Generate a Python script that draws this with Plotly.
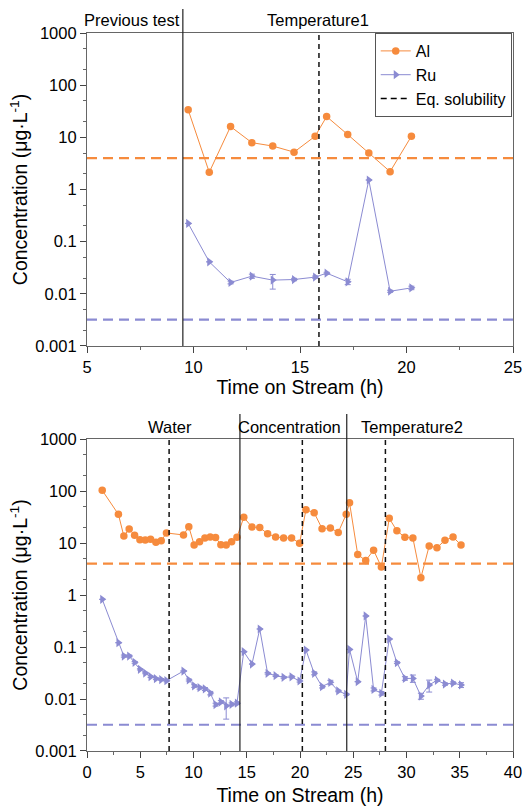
import plotly.graph_objects as go

# ---------------- data: top panel (Temperature1) ----------------
t1_time = [9.75, 10.74, 11.74, 12.74, 13.72, 14.72, 15.71, 16.25, 17.24, 18.23, 19.23, 20.23]
t1_al = [33.6, 2.14, 16.1, 7.9, 6.8, 5.2, 10.5, 25.0, 11.3, 5.0, 2.2, 10.5]
t1_ru = [0.224, 0.041, 0.0165, 0.0218, 0.0183, 0.0188, 0.0209, 0.0249, 0.017, 1.52, 0.0112, 0.013]
t1_ru_err_hi = [0.0, 0.0, 0.001, 0.002, 0.0052, 0.001, 0.001, 0.001, 0.002, 0.0, 0.0005, 0.001]
t1_ru_err_lo = [0.0, 0.0, 0.001, 0.002, 0.0060, 0.001, 0.001, 0.001, 0.002, 0.0, 0.0005, 0.001]

# ---------------- data: bottom panel ----------------
t2_time = [1.43, 2.95, 3.46, 3.96, 4.47, 4.97, 5.47, 5.97, 6.47, 6.97, 7.46,
           9.06, 9.56, 10.06, 10.57, 11.07, 11.57, 12.07, 12.57, 13.07, 13.58, 14.08,
           14.72, 15.49, 16.22, 16.96, 17.71, 18.46, 19.21, 19.96, 20.56, 21.33, 22.07, 22.85, 23.59, 24.34,
           24.65, 25.42, 26.17, 26.91, 27.64, 28.38, 29.1, 29.85, 30.6, 31.35, 32.13, 32.86, 33.61, 34.37, 35.12]
t2_al = [103, 35.6, 13.6, 18.6, 14.1, 11.6, 11.4, 11.8, 10.3, 11.0, 15.6,
         14.3, 20.6, 9.2, 10.6, 12.5, 13.1, 12.7, 9.3, 9.2, 10.6, 12.9,
         31.2, 20.3, 19.8, 15.1, 13.1, 12.5, 12.5, 9.9, 43.7, 38.3, 18.9, 19.5, 16.0, 35.6,
         59.7, 6.0, 4.6, 7.3, 3.45, 29.8, 17.2, 12.9, 12.5, 2.15, 8.8, 8.1, 11.3, 13.0, 9.2]
t2_ru = [0.826, 0.121, 0.067, 0.067, 0.0507, 0.0372, 0.0316, 0.0269, 0.0246, 0.0237, 0.0225,
         0.0345, 0.0232, 0.0178, 0.0165, 0.0156, 0.0130, 0.0078, 0.0088, 0.0074, 0.0079, 0.0083,
         0.0813, 0.047, 0.222, 0.0312, 0.0281, 0.0261, 0.0267, 0.0222, 0.0876, 0.0312, 0.0173, 0.0209, 0.0143, 0.0123,
         0.090, 0.0215, 0.395, 0.0153, 0.0129, 0.1425, 0.050, 0.0249, 0.0249, 0.0114, 0.0186, 0.0229, 0.0194, 0.0203, 0.0186]
t2_ru_err_hi = [0.0, 0.0, 0.003, 0.003, 0.002, 0.001, 0.001, 0.001, 0.001, 0.001, 0.001,
                0.0, 0.001, 0.001, 0.001, 0.001, 0.001, 0.0005, 0.0005, 0.0031, 0.0005, 0.0005,
                0.0, 0.0, 0.0, 0.001, 0.001, 0.001, 0.001, 0.001, 0.0, 0.002, 0.001, 0.002, 0.0005, 0.0005,
                0.0, 0.0, 0.0, 0.001, 0.001, 0.0, 0.002, 0.002, 0.004, 0.0015, 0.0045, 0.001, 0.001, 0.001, 0.002]
t2_ru_err_lo = [0.0, 0.0, 0.003, 0.003, 0.002, 0.001, 0.001, 0.001, 0.001, 0.001, 0.001,
                0.0, 0.001, 0.001, 0.001, 0.001, 0.001, 0.0005, 0.0005, 0.0033, 0.0005, 0.0005,
                0.0, 0.0, 0.0, 0.001, 0.001, 0.001, 0.001, 0.001, 0.0, 0.002, 0.001, 0.002, 0.0005, 0.0005,
                0.0, 0.0, 0.0, 0.001, 0.001, 0.0, 0.002, 0.002, 0.004, 0.0015, 0.0050, 0.001, 0.001, 0.001, 0.002]

# equilibrium solubility levels
eq_al = 4.0
eq_ru = 0.0032

# phase boundaries
top_solid = [9.5]
top_dashed = [15.89]
bot_solid = [14.36, 24.39]
bot_dashed = [7.71, 20.22, 28.02]

top_phase_names = ["Previous test", "Temperature1"]
top_phase_pos = [7.1, 15.85]
bot_phase_names = ["Water", "Concentration", "Temperature2"]
bot_phase_pos = [7.8, 19.0, 30.5]

y_tickvals = [0.001, 0.01, 0.1, 1, 10, 100, 1000]
y_ticktext = ["0.001", "0.01", "0.1", "1", "10", "100", "1000"]

ORANGE = "#F68B3D"
PURPLE = "#8B8BD2"
FONT = "Liberation Sans, Arial, sans-serif"

fig = go.Figure()

def add_panel(xa, ya, t, al, ru, ehi, elo, legend):
    fig.add_trace(go.Scatter(x=t, y=al, mode="lines+markers", name="Al", xaxis=xa, yaxis=ya,
                             line=dict(color=ORANGE, width=1), marker=dict(color=ORANGE, size=7.5, symbol="circle"),
                             showlegend=legend))
    fig.add_trace(go.Scatter(x=t, y=ru, mode="lines+markers", name="Ru", xaxis=xa, yaxis=ya,
                             line=dict(color=PURPLE, width=1),
                             marker=dict(color=PURPLE, size=8, symbol="triangle-right"),
                             error_y=dict(type="data", array=ehi, arrayminus=elo, symmetric=False,
                                          color=PURPLE, thickness=1, width=3),
                             showlegend=legend))

add_panel("x", "y", t1_time, t1_al, t1_ru, t1_ru_err_hi, t1_ru_err_lo, True)
add_panel("x2", "y2", t2_time, t2_al, t2_ru, t2_ru_err_hi, t2_ru_err_lo, False)

fig.add_trace(go.Scatter(x=[None], y=[None], mode="lines", name="Eq. solubility", xaxis="x", yaxis="y",
                         line=dict(color="black", width=1.5, dash="6px,4px")))

shapes = []
for xr, yr in [("x", "y"), ("x2", "y2")]:
    for lvl, col in [(eq_al, ORANGE), (eq_ru, PURPLE)]:
        shapes.append(dict(type="line", xref=xr + " domain", yref=yr, x0=0, x1=1, y0=lvl, y1=lvl,
                           line=dict(color=col, width=2.2, dash="10px,6px"), layer="below"))
for xv in top_solid:
    shapes.append(dict(type="line", xref="x", yref="y domain", x0=xv, x1=xv, y0=0, y1=1.077,
                       line=dict(color="#222", width=1.2)))
for xv in top_dashed:
    shapes.append(dict(type="line", xref="x", yref="y domain", x0=xv, x1=xv, y0=0, y1=1,
                       line=dict(color="#111", width=1.5, dash="5px,4px")))
for xv in bot_solid:
    shapes.append(dict(type="line", xref="x2", yref="y2 domain", x0=xv, x1=xv, y0=0, y1=1.08,
                       line=dict(color="#222", width=1.2)))
for xv in bot_dashed:
    shapes.append(dict(type="line", xref="x2", yref="y2 domain", x0=xv, x1=xv, y0=0, y1=1,
                       line=dict(color="#111", width=1.5, dash="5px,4px")))

annotations = []
for name, pos in zip(top_phase_names, top_phase_pos):
    annotations.append(dict(text=name, x=pos, xref="x", y=1.04, yref="y domain", showarrow=False,
                            font=dict(size=16.5, color="black", family=FONT), yanchor="middle"))
for name, pos in zip(bot_phase_names, bot_phase_pos):
    annotations.append(dict(text=name, x=pos, xref="x2", y=1.04, yref="y2 domain", showarrow=False,
                            font=dict(size=16.5, color="black", family=FONT), yanchor="middle"))

axis_common = dict(showline=True, linecolor="#666", linewidth=1.2, mirror=True, ticks="outside",
                   ticklen=6, tickcolor="#444", showgrid=False, zeroline=False, automargin=False,
                   tickfont=dict(size=16.5, color="black", family=FONT))

yaxis_common = dict(axis_common, type="log", range=[-3, 3], tickvals=y_tickvals, ticktext=y_ticktext,
                    title=dict(text="Concentration (μg·L<sup>-1</sup>)", font=dict(size=19.5, family=FONT, color="black"),
                               standoff=2),
                    minor=dict(ticks="outside", ticklen=3, tickcolor="#666", showgrid=False))

fig.update_layout(
    width=523, height=806,
    margin=dict(l=87, r=10, t=33, b=55, autoexpand=False),
    paper_bgcolor="white", plot_bgcolor="white",
    font=dict(family=FONT, color="black"),
    xaxis=dict(axis_common, domain=[0, 1], anchor="y", range=[5, 25], dtick=5,
               title=dict(text="Time on Stream (h)", font=dict(size=19.5, family=FONT), standoff=2),
               minor=dict(ticks="outside", ticklen=3, dtick=2.5, tickcolor="#666")),
    yaxis=dict(yaxis_common, domain=[0.5641, 1], anchor="x"),
    xaxis2=dict(axis_common, domain=[0, 1], anchor="y2", range=[0, 40], dtick=5,
                title=dict(text="Time on Stream (h)", font=dict(size=19.5, family=FONT), standoff=8),
                minor=dict(ticks="outside", ticklen=3, dtick=2.5, tickcolor="#666")),
    yaxis2=dict(yaxis_common, domain=[0, 0.4345], anchor="x2"),
    legend=dict(x=0.997, xanchor="right", y=1, yanchor="top", bordercolor="#555", borderwidth=1,
                bgcolor="white", font=dict(size=16, family=FONT), tracegroupgap=0,
                itemwidth=30),
    shapes=shapes, annotations=annotations,
)

fig.write_html("out.html", config={"displayModeBar": False},
               post_script="document.body.style.margin='0';document.body.style.overflow='hidden';")
